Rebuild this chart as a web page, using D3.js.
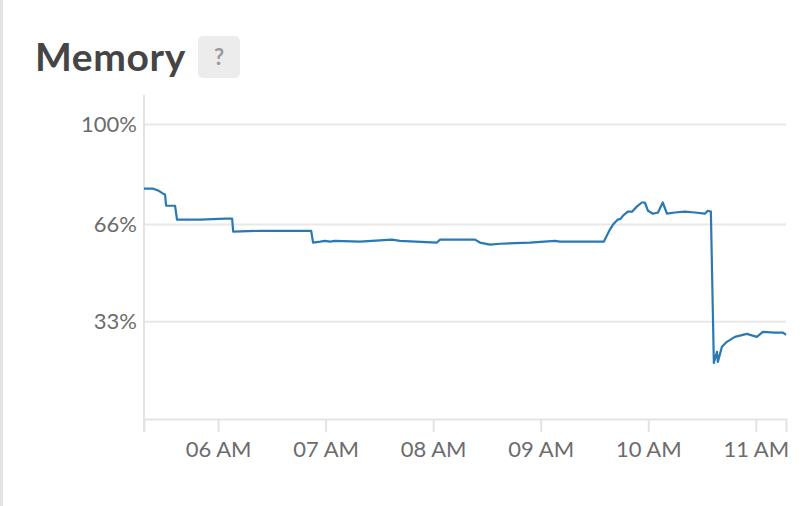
<!DOCTYPE html>
<html>
<head>
<meta charset="utf-8">
<script src="https://cdn.jsdelivr.net/npm/d3@7/dist/d3.min.js"></script>
<style>
  html, body { margin: 0; padding: 0; background: #fff; }
  svg { display: block; }
</style>
</head>
<body>
<svg id="chart" width="802" height="506"></svg>
<script>
// ---- data ----
const title = "Memory";
const times = [
  "05:18:40","05:23:50","05:26:30","05:29:20","05:30:25","05:31:00","05:36:00","05:37:05",
  "05:50:00","06:04:00","06:07:50","06:08:25","06:23:25","06:51:55","06:53:00","06:57:00",
  "06:59:40","07:02:30","07:05:10","07:19:10","07:37:00","07:41:30","08:02:05","08:03:50",
  "08:23:20","08:26:05","08:31:40","08:37:20","08:54:00","09:07:55","09:10:40","09:35:10",
  "09:38:35","09:40:20","09:43:00","09:44:40","09:45:50","09:48:35","09:50:55","09:53:35",
  "09:56:25","09:58:05","09:59:50","10:02:35","10:05:25","10:08:05","10:10:25","10:14:50",
  "10:20:25","10:26:00","10:31:35","10:33:10","10:34:55","10:36:35","10:38:20","10:38:50",
  "10:41:05","10:43:50","10:48:20","10:55:00","11:00:35","11:03:55","11:10:35","11:15:05",
  "11:16:50"
];
const memoryPct = [
  78.2,78.2,77.6,76.5,76.2,72.4,72.4,67.7,
  67.7,68.0,68.0,63.6,63.9,63.9,59.9,60.2,
  60.5,60.2,60.5,60.2,60.9,60.5,59.9,60.9,
  60.9,59.9,59.2,59.5,59.9,60.5,60.2,60.2,
  64.3,66.0,67.7,68.0,69.0,70.4,70.4,72.1,
  73.5,73.5,70.7,69.7,70.1,73.5,69.7,70.1,
  70.4,70.1,69.7,70.7,70.4,19.0,22.8,19.4,
  24.5,26.2,27.9,28.9,27.9,29.6,29.3,29.3,
  28.6
];
const yTicks = [33, 66, 100];
const yTickLabels = ["33%", "66%", "100%"];
const xTickTimes = ["06:00:00","07:00:00","08:00:00","09:00:00","10:00:00","11:00:00"];
const xTickLabels = ["06 AM","07 AM","08 AM","09 AM","10 AM","11 AM"];
const yMax = 110;

// ---- drawing ----
(function () {
const parse = d3.timeParse("%H:%M:%S");
const data = times.map((t, i) => ({ t: parse(t), v: memoryPct[i] }));

const svg = d3.select("#chart");
const mLeft = 144, mRight = 786, mTop = 95, mBottom = 419;
const font = "Lato, 'Open Sans', sans-serif";

// left border
svg.append("rect").attr("x", 0).attr("y", 0).attr("width", 3).attr("height", 506).attr("fill", "#e3e3e3");

// title
svg.append("text")
  .attr("x", 35).attr("y", 71)
  .attr("font-family", font)
  .attr("font-weight", 700)
  .attr("font-size", 39)
  .attr("letter-spacing", 0.6)
  .attr("fill", "#454545")
  .text(title);

// help badge
svg.append("rect").attr("x", 198).attr("y", 36).attr("width", 42).attr("height", 42)
  .attr("rx", 5).attr("fill", "#ececec");
svg.append("text").attr("x", 219).attr("y", 65).attr("text-anchor", "middle")
  .attr("font-family", font).attr("font-size", 22).attr("font-weight", 700)
  .attr("fill", "#9a9a9a").text("?");

const x = d3.scaleTime().domain([data[0].t, data[data.length - 1].t]).range([mLeft, mRight]);
const y = d3.scaleLinear().domain([0, yMax]).range([mBottom, mTop]);

// gridlines
svg.append("g").selectAll("line").data(yTicks).join("line")
  .attr("x1", mLeft).attr("x2", mRight)
  .attr("y1", d => y(d)).attr("y2", d => y(d))
  .attr("stroke", "#e8e8e8").attr("stroke-width", 2);

// y axis
const yAxis = d3.axisLeft(y).tickValues(yTicks).tickSize(0).tickPadding(7)
  .tickFormat((d, i) => yTickLabels[i]);
const gy = svg.append("g").attr("transform", `translate(${mLeft},0)`).call(yAxis);
gy.select(".domain").remove();
gy.selectAll("text").attr("font-family", font).attr("font-size", 22).attr("fill", "#6c6c6c");
svg.append("line").attr("x1", mLeft).attr("x2", mLeft).attr("y1", mTop).attr("y2", 432)
  .attr("stroke", "#e3e3e3").attr("stroke-width", 2);

// x axis
const xAxis = d3.axisBottom(x).tickValues(xTickTimes.map(parse)).tickSize(13).tickSizeOuter(13)
  .tickPadding(9).tickFormat((d, i) => xTickLabels[i]);
const gx = svg.append("g").attr("transform", `translate(0,${mBottom})`).call(xAxis);
gx.select(".domain").attr("stroke", "#e3e3e3").attr("stroke-width", 2);
gx.selectAll(".tick line").attr("stroke", "#e3e3e3").attr("stroke-width", 2);
gx.selectAll("text").attr("font-family", font).attr("font-size", 22).attr("fill", "#6c6c6c");

// line
const line = d3.line().x(d => x(d.t)).y(d => y(d.v));
svg.append("path").datum(data).attr("d", line)
  .attr("fill", "none").attr("stroke", "#2a79b3").attr("stroke-width", 2.2)
  .attr("stroke-linejoin", "round");
})();
</script>
</body>
</html>
